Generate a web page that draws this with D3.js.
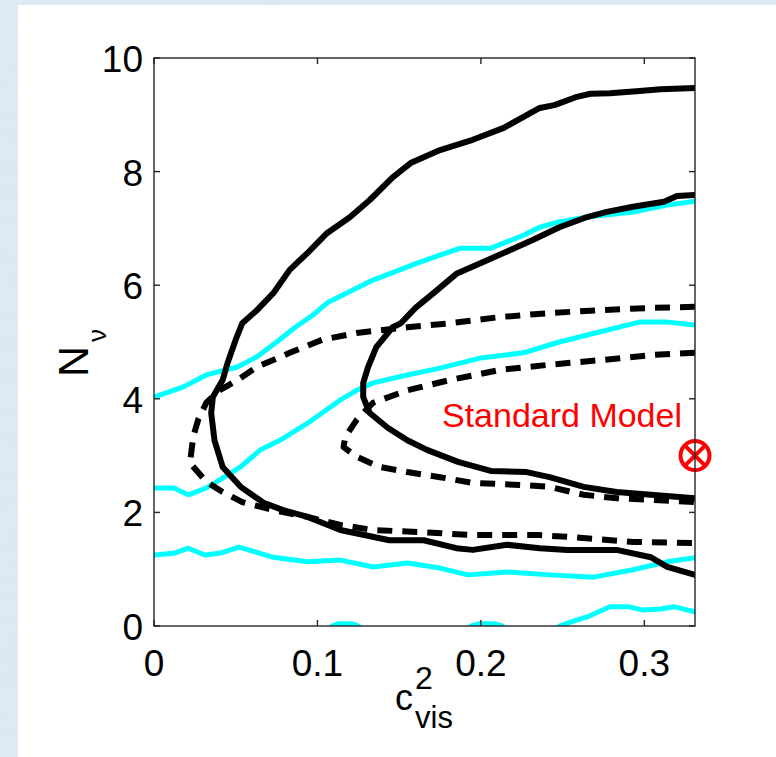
<!DOCTYPE html>
<html>
<head>
<meta charset="utf-8">
<script src="https://cdn.jsdelivr.net/npm/d3@7"></script>
<style>
  html, body { margin: 0; padding: 0; background: #dbe6f2; }
  svg { display: block; }
  text { font-family: "Liberation Sans", Arial, sans-serif; }
</style>
</head>
<body>
<svg id="chart" width="776" height="757"></svg>
<script>
// Axis ranges and ticks
const xDomain = [0, 0.331];
const yDomain = [0, 10];
const xTicks = [0, 0.1, 0.2, 0.3];
const yTicks = [0, 2, 4, 6, 8, 10];
const xTickLabels = ["0", "0.1", "0.2", "0.3"];
const yTickLabels = ["0", "2", "4", "6", "8", "10"];

// Standard Model point (c_vis^2, N_nu)
const standardModel = [0.331, 3.0];

// Black solid contours [c_vis^2, N_nu]
const solidOuter = [
  [0.331,9.47],[0.310,9.45],[0.297,9.42],[0.279,9.38],[0.267,9.37],[0.258,9.31],
  [0.245,9.17],[0.236,9.12],[0.214,8.77],[0.195,8.56],[0.175,8.38],[0.157,8.15],
  [0.146,7.90],[0.132,7.50],[0.120,7.20],[0.106,6.92],[0.094,6.57],[0.083,6.27],
  [0.073,5.86],[0.063,5.56],[0.054,5.33],[0.050,5.04],[0.045,4.63],[0.042,4.33],
  [0.036,4.03],[0.035,3.75],[0.037,3.27],[0.042,2.80],[0.053,2.45],[0.067,2.17],
  [0.079,2.04],[0.094,1.92],[0.114,1.69],[0.144,1.51],[0.165,1.51],[0.185,1.37],
  [0.195,1.34],[0.216,1.43],[0.236,1.37],[0.253,1.34],[0.283,1.34],[0.304,1.21],
  [0.314,1.04],[0.331,0.90]
];
const solidInner = [
  [0.331,7.59],[0.320,7.57],[0.312,7.47],[0.293,7.38],[0.277,7.29],[0.265,7.20],
  [0.248,7.02],[0.232,6.80],[0.218,6.62],[0.200,6.39],[0.185,6.20],[0.171,5.86],
  [0.160,5.60],[0.151,5.33],[0.146,5.26],[0.136,4.91],[0.131,4.56],[0.128,4.28],
  [0.128,4.03],[0.132,3.75],[0.143,3.49],[0.155,3.27],[0.167,3.10],[0.186,2.89],
  [0.206,2.73],[0.228,2.71],[0.242,2.62],[0.263,2.45],[0.283,2.36],[0.304,2.31],
  [0.331,2.25]
];

// Black dashed contours
const dashedOuter = [
  [0.331,5.62],[0.304,5.60],[0.273,5.56],[0.242,5.51],[0.212,5.44],[0.181,5.33],
  [0.155,5.26],[0.124,5.16],[0.103,5.04],[0.083,4.81],[0.063,4.56],[0.051,4.33],
  [0.040,4.15],[0.032,3.93],[0.027,3.63],[0.024,3.33],[0.022,2.87],[0.032,2.54],
  [0.042,2.36],[0.054,2.18],[0.073,2.04],[0.094,1.92],[0.114,1.78],[0.134,1.69],
  [0.165,1.65],[0.195,1.60],[0.236,1.60],[0.253,1.57],[0.293,1.48],[0.331,1.46]
];
const dashedInner = [
  [0.331,4.81],[0.304,4.77],[0.273,4.68],[0.242,4.60],[0.212,4.51],[0.181,4.33],
  [0.155,4.15],[0.134,3.93],[0.124,3.63],[0.117,3.33],[0.116,3.15],[0.124,2.98],
  [0.138,2.80],[0.155,2.71],[0.175,2.62],[0.195,2.52],[0.226,2.48],[0.242,2.45],
  [0.263,2.31],[0.283,2.25],[0.304,2.22],[0.331,2.18]
];

// Cyan contours
const cyanTop = [
  [0.000,4.03],[0.018,4.21],[0.032,4.42],[0.051,4.56],[0.063,4.74],[0.075,5.00],
  [0.086,5.25],[0.097,5.47],[0.106,5.69],[0.134,6.09],[0.161,6.39],[0.187,6.65],
  [0.206,6.65],[0.226,6.88],[0.236,7.02],[0.247,7.11],[0.265,7.20],[0.293,7.29],
  [0.314,7.41],[0.331,7.48]
];
const cyanMid = [
  [0.000,2.43],[0.012,2.43],[0.021,2.31],[0.032,2.43],[0.040,2.57],[0.053,2.80],
  [0.065,3.10],[0.077,3.27],[0.094,3.57],[0.114,3.98],[0.124,4.15],[0.134,4.28],
  [0.155,4.42],[0.175,4.54],[0.200,4.72],[0.226,4.81],[0.248,5.00],[0.273,5.18],
  [0.297,5.35],[0.314,5.35],[0.331,5.30]
];
const cyanLow = [
  [0.000,1.25],[0.012,1.28],[0.021,1.37],[0.031,1.25],[0.040,1.28],[0.052,1.39],
  [0.073,1.21],[0.094,1.13],[0.114,1.16],[0.134,1.04],[0.155,1.11],[0.175,1.02],
  [0.192,0.90],[0.216,0.95],[0.242,0.90],[0.269,0.86],[0.293,0.99],[0.314,1.13],
  [0.331,1.20]
];
const cyanBottom = [
  [0.248,0.00],[0.258,0.10],[0.265,0.16],[0.279,0.34],[0.290,0.34],[0.299,0.28],
  [0.310,0.30],[0.318,0.34],[0.331,0.25]
];
const cyanBlipA = [[0.109,0.0],[0.113,0.04],[0.121,0.04],[0.125,0.0]];
const cyanBlipB = [[0.194,0.0],[0.199,0.04],[0.208,0.04],[0.213,0.0]];

(function draw() {
  const svg = d3.select("#chart");
  const W = 776, H = 757;

  // Mottled light-blue page background behind a white panel
  const defs = svg.append("defs");
  const f = defs.append("filter").attr("id", "marble").attr("x", 0).attr("y", 0).attr("width", "100%").attr("height", "100%");
  f.append("feTurbulence").attr("type", "fractalNoise").attr("baseFrequency", "0.02 0.08").attr("numOctaves", 3).attr("seed", 7).attr("result", "noise");
  f.append("feColorMatrix").attr("in", "noise").attr("type", "matrix")
    .attr("values", "0 0 0 0 0.80  0 0 0 0 0.87  0 0 0 0 0.95  0.6 0 0 0 -0.15")
    .attr("result", "tint");
  f.append("feComposite").attr("in", "tint").attr("in2", "SourceGraphic").attr("operator", "over");
  svg.append("rect").attr("width", W).attr("height", H).attr("fill", "#dce7f3").attr("filter", "url(#marble)");
  svg.append("rect").attr("x", 18).attr("y", 5).attr("width", W - 18).attr("height", H - 5).attr("fill", "#ffffff");

  const pl = 154, pt = 58, pr = 695, pb = 626;
  const x = d3.scaleLinear().domain(xDomain).range([pl, pr]);
  const y = d3.scaleLinear().domain(yDomain).range([pb, pt]);

  defs.append("clipPath").attr("id", "plotClip")
    .append("rect").attr("x", pl).attr("y", pt).attr("width", pr - pl).attr("height", pb - pt);

  const line = d3.line().x(d => x(d[0])).y(d => y(d[1])).curve(d3.curveLinear);
  const plot = svg.append("g").attr("clip-path", "url(#plotClip)");

  function drawCurve(data, color, width, dash) {
    plot.append("path").datum(data)
      .attr("d", line)
      .attr("fill", "none")
      .attr("stroke", color)
      .attr("stroke-width", width)
      .attr("stroke-linejoin", "round")
      .attr("stroke-linecap", dash ? "butt" : "round")
      .attr("stroke-dasharray", dash || null);
  }

  [cyanTop, cyanMid, cyanLow, cyanBottom, cyanBlipA, cyanBlipB].forEach(c => drawCurve(c, "#00ffff", 5, null));
  [solidOuter, solidInner].forEach(c => drawCurve(c, "#000000", 6, null));
  [dashedOuter, dashedInner].forEach(c => drawCurve(c, "#000000", 6, "15,10"));

  // Standard Model marker and label
  const r = 14.5;
  const sm = svg.append("g").attr("transform", `translate(${x(standardModel[0])},${y(standardModel[1])})`);
  sm.append("circle").attr("r", r).attr("fill", "none").attr("stroke", "#ff0000").attr("stroke-width", 4);
  const k = r * Math.SQRT1_2;
  sm.append("path").attr("d", `M${-k},${-k}L${k},${k}M${-k},${k}L${k},${-k}`)
    .attr("stroke", "#ff0000").attr("stroke-width", 4);
  svg.append("text").attr("x", 682).attr("y", 427).attr("text-anchor", "end")
    .attr("fill", "#ff0000").attr("font-size", 34).text("Standard Model");

  // Axes box with inward ticks on all sides
  const tickLen = 6;
  const axes = svg.append("g").attr("stroke", "#262626").attr("stroke-width", 1.4).attr("fill", "none");
  axes.append("rect").attr("x", pl).attr("y", pt).attr("width", pr - pl).attr("height", pb - pt);
  xTicks.forEach(t => {
    axes.append("line").attr("x1", x(t)).attr("x2", x(t)).attr("y1", pb).attr("y2", pb - tickLen);
    axes.append("line").attr("x1", x(t)).attr("x2", x(t)).attr("y1", pt).attr("y2", pt + tickLen);
  });
  yTicks.forEach(t => {
    axes.append("line").attr("x1", pl).attr("x2", pl + tickLen).attr("y1", y(t)).attr("y2", y(t));
    axes.append("line").attr("x1", pr).attr("x2", pr - tickLen).attr("y1", y(t)).attr("y2", y(t));
  });

  // Tick labels
  const tickFont = 37;
  xTicks.forEach((t, i) => {
    svg.append("text").attr("x", x(t)).attr("y", 676).attr("text-anchor", "middle")
      .attr("font-size", tickFont).attr("fill", "#000").text(xTickLabels[i]);
  });
  yTicks.forEach((t, i) => {
    svg.append("text").attr("x", 143).attr("y", y(t) + 14).attr("text-anchor", "end")
      .attr("font-size", tickFont).attr("fill", "#000").text(yTickLabels[i]);
  });

  // X axis label: c_vis^2
  svg.append("text").attr("x", 395).attr("y", 710).attr("font-size", 36).attr("fill", "#000").text("c");
  svg.append("text").attr("x", 415).attr("y", 689).attr("font-size", 32).attr("fill", "#000").text("2");
  svg.append("text").attr("x", 415).attr("y", 728).attr("font-size", 31).attr("fill", "#000").text("vis");

  // Y axis label: N_nu
  const yl = svg.append("g").attr("transform", "translate(88,342) rotate(-90)");
  yl.append("text").attr("x", -4).attr("y", 0).attr("text-anchor", "end").attr("font-size", 43).attr("fill", "#000").text("N");
  yl.append("text").attr("x", 0).attr("y", 18).attr("text-anchor", "start").attr("font-size", 26).attr("fill", "#000").text("ν");
})();
</script>
</body>
</html>
